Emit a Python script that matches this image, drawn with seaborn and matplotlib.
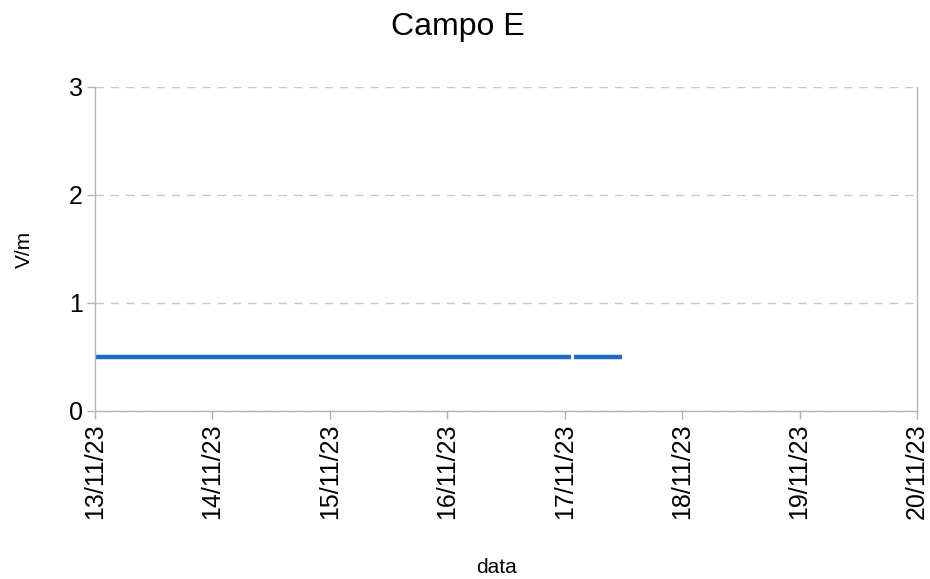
import matplotlib
matplotlib.use("Agg")
import matplotlib.pyplot as plt
import matplotlib.dates as mdates
import seaborn as sns
import pandas as pd
import numpy as np

title = "Campo E"
x_label = "data"
y_label = "V/m"

# two segments of the series (gap between them)
times = ["2023-11-13 00:00", "2023-11-17 01:20",
         "2023-11-17 01:50", "2023-11-17 11:45"]
values = [0.5, 0.5, 0.5, 0.5]
segments = [0, 0, 1, 1]

x_ticks = ["2023-11-13", "2023-11-14", "2023-11-15", "2023-11-16",
           "2023-11-17", "2023-11-18", "2023-11-19", "2023-11-20"]
y_ticks = [0, 1, 2, 3]

df = pd.DataFrame({"time": pd.to_datetime(times), "value": values, "segment": segments})

sns.set_theme(style="white")
plt.rcParams["font.family"] = ["Liberation Sans", "DejaVu Sans"]

fig = plt.figure(figsize=(9.3, 5.79), dpi=100)
ax = fig.add_axes([95 / 930, 1 - 411 / 579, (917 - 95) / 930, (411 - 87) / 579])

sns.lineplot(data=df, x="time", y="value", units="segment", estimator=None,
             color="#1c6bc4", linewidth=3.2, ax=ax, solid_capstyle="butt")

xt = pd.to_datetime(x_ticks)
ax.set_xlim(xt[0], xt[-1])
ax.set_ylim(0, 3)
ax.set_xticks(xt)
ax.xaxis.set_major_formatter(mdates.DateFormatter("%d/%m/%y"))
ax.set_yticks(y_ticks)
ax.tick_params(axis="x", rotation=90, labelsize=18, length=6, width=1,
               color="#b3b3b3", direction="out", bottom=True, pad=3)
ax.tick_params(axis="y", labelsize=18, length=6, width=1,
               color="#b3b3b3", direction="out", left=True, pad=3)
for lbl in ax.get_xticklabels() + ax.get_yticklabels():
    lbl.set_color("black")

ax.yaxis.grid(True, color="#c8c8c8", linestyle=(0, (6, 5)), linewidth=1)
ax.xaxis.grid(False)
for side in ["left", "bottom", "right"]:
    ax.spines[side].set_visible(True)
    ax.spines[side].set_color("#b3b3b3")
    ax.spines[side].set_linewidth(1)
ax.spines["top"].set_visible(False)

ax.set_xlabel(x_label, fontsize=15, color="black")
ax.xaxis.set_label_coords(0.488, -0.455)
ax.set_ylabel(y_label, fontsize=15, color="black", labelpad=25)
fig.suptitle(title, fontsize=23, x=458 / 930, y=1 - 12 / 579, va="top", color="black")

fig.savefig("out.png", dpi=100)
